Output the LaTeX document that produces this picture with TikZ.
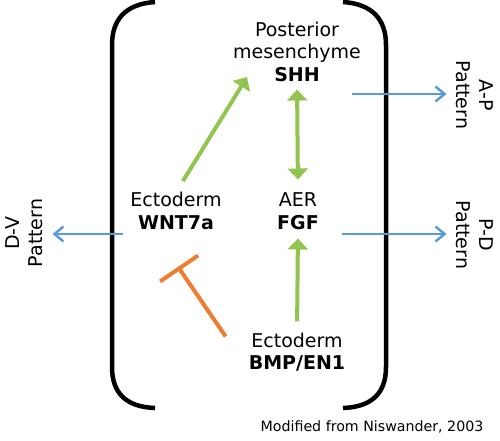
\documentclass[tikz,border=0pt]{standalone}
\usepackage{fontspec}
\setmainfont{DejaVu Sans}
\usepackage{tikz}
\definecolor{gg}{RGB}{146, 196, 80}
\definecolor{oo}{RGB}{237, 125, 49}
\definecolor{bb}{RGB}{91, 155, 213}
\usetikzlibrary{arrows.meta}

\begin{document}
\begin{tikzpicture}[every node/.style={inner sep=0pt, align=center, font=\fontsize{19}{22.5}\selectfont},
act/.style={line width=4pt, color=gg, -{Triangle[length=11pt,width=20pt]}},
mutual/.style={line width=4pt, color=gg, {Triangle[length=11pt,width=20pt]}-{Triangle[length=11pt,width=20pt]}},
inh/.style={line width=4pt, color=oo, -{Bar[width=46pt,line width=4pt]}},
signal/.style={line width=2.5pt, color=bb, -{Straight Barb[length=9pt,width=15pt,line width=2.5pt]}},
brace/.style={line width=4.5pt, color=black}]
\useasboundingbox (0pt, 0pt) rectangle (500pt, -441pt);
\draw [brace] (155pt, -2pt) .. controls (125pt, -4pt) and (112pt, -20pt) .. (112pt, -45pt) to (112pt, -367pt) .. controls (112pt, -392pt) and (125pt, -407pt) .. (155pt, -408pt);
\draw [brace] (343pt, -2pt) .. controls (373pt, -4pt) and (386pt, -20pt) .. (386pt, -45pt) to (386pt, -367pt) .. controls (386pt, -392pt) and (373pt, -407pt) .. (343pt, -408pt);
\node (shh) at (297pt, -51.5pt) {Posterior\\mesenchyme\\\textbf{SHH}};
\node (wnt) at (176pt, -211pt) {Ectoderm\\\textbf{WNT7a}};
\node (fgf) at (298pt, -211pt) {AER\\\textbf{FGF}};
\node (bmp) at (297pt, -352pt) {Ectoderm\\\textbf{BMP/EN1}};
\node (dv) [rotate=90] at (24pt, -233pt) {D-V\\Pattern};
\node (ap) [rotate=-90] at (475pt, -95pt) {A-P\\Pattern};
\node (pd) [rotate=-90] at (475pt, -235pt) {P-D\\Pattern};
\node (src) [font=\fontsize{14.2}{17}\selectfont] at (372pt, -427pt) {Modified from Niswander, 2003};
\coordinate (dvstart) at (123pt, -234pt);
\coordinate (apstart) at (352pt, -94pt);
\coordinate (pdstart) at (342pt, -234pt);
\draw [act, shorten <=13pt] (wnt.north) to ([shift={(-50pt,4.5pt)}]shh.south);
\draw [mutual, shorten <=8pt, shorten >=13pt] (shh.south) to (fgf.north);
\draw [act, shorten <=11pt, shorten >=9pt] (bmp.north) to (fgf.south);
\draw [inh] ([shift={(-23pt,-4pt)}]bmp.north west) to ([shift={(2pt,-37pt)}]wnt.south);
\draw [signal, shorten >=10pt] (dvstart) to (dvstart -| dv.south);
\draw [signal, shorten >=10pt] (apstart) to (apstart -| ap.south);
\draw [signal, shorten >=10pt] (pdstart) to (pdstart -| pd.south);
\end{tikzpicture}
\end{document}
